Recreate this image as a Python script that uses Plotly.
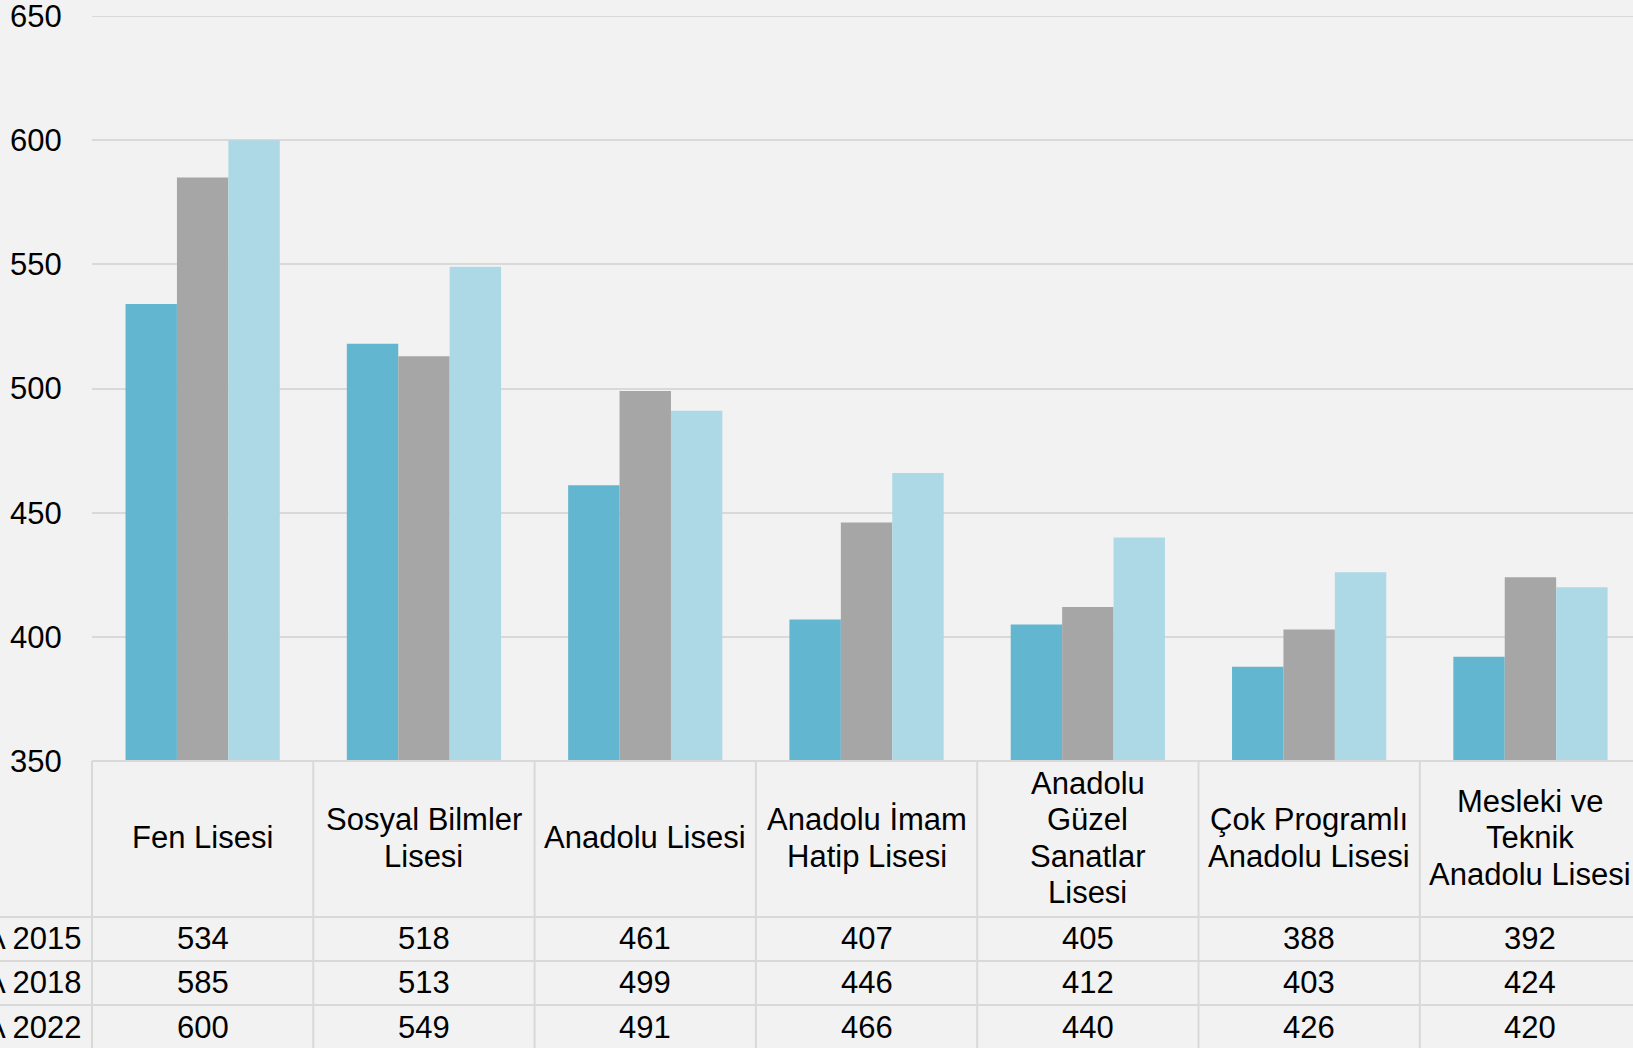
import plotly.graph_objects as go

categories = ["Fen Lisesi", "Sosyal Bilmler<br>Lisesi", "Anadolu Lisesi", "Anadolu İmam<br>Hatip Lisesi",
              "Anadolu<br>Güzel<br>Sanatlar<br>Lisesi", "Çok Programlı<br>Anadolu Lisesi",
              "Mesleki ve<br>Teknik<br>Anadolu Lisesi"]
series_names = ["PISA 2015", "PISA 2018", "PISA 2022"]
pisa_2015 = [534, 518, 461, 407, 405, 388, 392]
pisa_2018 = [585, 513, 499, 446, 412, 403, 424]
pisa_2022 = [600, 549, 491, 466, 440, 426, 420]
y_ticks = [350, 400, 450, 500, 550, 600, 650]

series_values = [pisa_2015, pisa_2018, pisa_2022]
colors = ["#62B6CF", "#A6A6A6", "#ADD9E6"]

W, H = 1633, 1048
L, R, T, B = 92, 0, 16, 287
plot_w = W - L - R
plot_h = H - T - B
cat_w = 221.3
xmin = -0.5
xmax = xmin + plot_w / cat_w
FONT = "Liberation Sans, Arial, sans-serif"
FS = 31
GRID = "#D9D9D9"

idx = list(range(len(categories)))
fig = go.Figure()
for name, vals, col in zip(series_names, series_values, colors):
    fig.add_trace(go.Bar(x=idx, y=vals, name=name, marker=dict(color=col, line=dict(width=0))))


def yp(py):
    return (H - B - py) / plot_h


def xp(xv):
    return (xv - xmin) / (xmax - xmin)


shapes = []
line = dict(color=GRID, width=2)
# top gridline (plotly drops gridlines at the range edge)
shapes.append(dict(type="line", xref="paper", yref="y", x0=0, x1=1.01, y0=y_ticks[-1], y1=y_ticks[-1],
                   line=line, layer="below"))
# table top border
shapes.append(dict(type="line", xref="paper", yref="paper", x0=0, x1=1.01, y0=0, y1=0, line=line))
# row separators
for py in [917, 961, 1005]:
    shapes.append(dict(type="line", xref="paper", yref="paper", x0=-L / plot_w, x1=1.01,
                       y0=yp(py), y1=yp(py), line=line))
# vertical separators
for k in range(len(categories) + 1):
    xv = k - 0.5
    shapes.append(dict(type="line", xref="paper", yref="paper", x0=xp(xv), x1=xp(xv),
                       y0=0, y1=yp(H + 5), line=line))

annotations = []
header_center = 838
line_sp = 36.5
for i, cat in enumerate(categories):
    lines = cat.split("<br>")
    n = len(lines)
    for j, ln in enumerate(lines):
        py = header_center + (j - (n - 1) / 2) * line_sp
        annotations.append(dict(x=i, xref="x", y=yp(py), yref="paper", text=ln, showarrow=False,
                                xanchor="center", yanchor="middle", font=dict(family=FONT, size=FS, color="black")))

row_centers = [938, 982, 1027]
for r, (name, vals) in enumerate(zip(series_names, series_values)):
    annotations.append(dict(x=(84 - L) / plot_w, xref="paper", y=yp(row_centers[r]), yref="paper",
                            text=name, showarrow=False, xanchor="right", yanchor="middle",
                            font=dict(family=FONT, size=FS, color="black")))
    for i, v in enumerate(vals):
        annotations.append(dict(x=i, xref="x", y=yp(row_centers[r]), yref="paper", text=str(v),
                                showarrow=False, xanchor="center", yanchor="middle",
                                font=dict(family=FONT, size=FS, color="black")))

fig.update_layout(
    width=W, height=H, autosize=False,
    margin=dict(l=L, r=R, t=T, b=B, pad=0),
    paper_bgcolor="#F2F2F2", plot_bgcolor="#F2F2F2",
    barmode="group", bargap=0.303, bargroupgap=0,
    showlegend=False,
    shapes=shapes, annotations=annotations,
    xaxis=dict(range=[xmin, xmax], showticklabels=False, showgrid=False, zeroline=False,
               showline=False, ticks=""),
    yaxis=dict(range=[350, 650], tickvals=y_ticks, ticktext=[str(t) for t in y_ticks],
               showgrid=True, gridcolor=GRID, gridwidth=2, zeroline=False, showline=False,
               ticks="outside", ticklen=23, tickcolor="rgba(0,0,0,0)",
               ticklabeloverflow="allow",
               tickfont=dict(family=FONT, size=FS, color="black")),
)

fig.write_html("out.html", config={"displayModeBar": False},
               post_script="document.body.style.margin='0px';document.body.style.overflow='hidden';")
